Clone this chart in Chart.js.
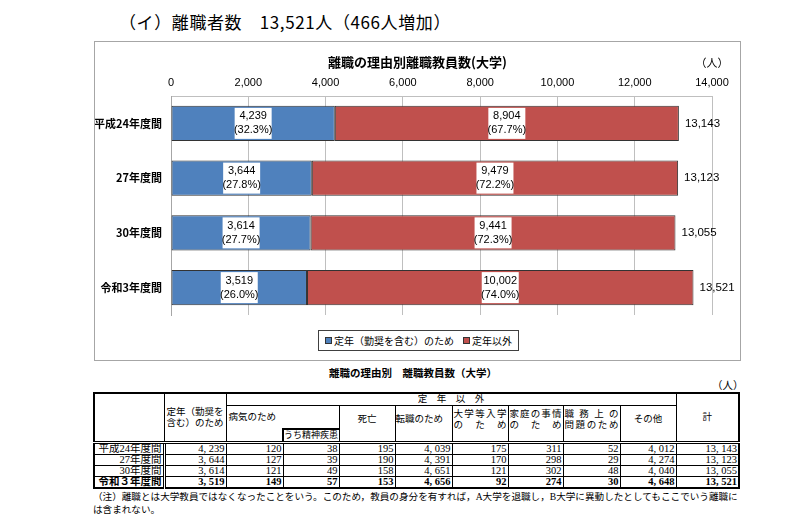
<!DOCTYPE html>
<html lang="ja">
<head>
<meta charset="utf-8">
<title>離職の理由別離職教員数（大学）</title>
<script src="https://cdn.jsdelivr.net/npm/chart.js@4.4.1/dist/chart.umd.min.js"></script>
<style>
  body { margin: 0; width: 800px; height: 521px; background: #fff; position: relative; overflow: hidden;
         font-family: "Noto Sans CJK JP", sans-serif; color: #000; }
  #pageTitle { position: absolute; left: 119px; top: 9px; font-size: 17px; line-height: 26px; white-space: nowrap; letter-spacing: 0.6px; }
  #chartBox { position: absolute; left: 94px; top: 41px; width: 647px; height: 320px; box-sizing: border-box; border: 1px solid #a6a6a6; }
  #chartBox canvas { display: block; }
  #legend { position: absolute; left: 318px; top: 330px; width: 201px; height: 21px; box-sizing: border-box;
            border: 1px solid #404040; background: #fff; display: flex; align-items: center; justify-content: center;
            gap: 9px; font-size: 10px; white-space: nowrap; }
  #legend .mark { display: inline-block; width: 5px; height: 5px; border: 1px solid #333; margin-right: 2px; vertical-align: 1px; }
  #tableTitle { position: absolute; left: 0; width: 826px; top: 365px; text-align: center; font-size: 10.5px; font-weight: bold; }
  #tableUnit { position: absolute; left: 712px; top: 377px; font-size: 10.5px; font-family: "Liberation Serif", "Noto Sans CJK JP", serif; }
  #reasons { position: absolute; left: 93px; top: 392px; width: 645px; table-layout: fixed; border-collapse: collapse;
             border: 2px solid #000; font-family: "Liberation Serif", "Noto Sans CJK JP", serif; font-size: 10.5px; }
  #reasons td { border: 1px solid #000; padding: 0 1px; line-height: 10px; height: 10px; overflow: hidden; white-space: nowrap; }
  #reasons .hd { font-size: 9.5px; line-height: 11px; vertical-align: middle; padding: 0; }
  #reasons .c { text-align: center; }
  #reasons .spread { text-align: justify; text-align-last: justify; padding: 0 1px; }
  #reasons .hb td, #reasons td.hb { border-bottom: 3px double #000; }
  #reasons .num { text-align: right; }
  #reasons .lab { text-align: right; border-right: 3px double #000; }
  #reasons tr.last td { font-weight: bold; }
  #note { position: absolute; left: 93px; top: 490px; width: 652px; font-size: 9.6px; line-height: 13px;
          font-family: "Liberation Serif", "Noto Sans CJK JP", serif; }
</style>
</head>
<body>
<div id="pageTitle">（イ）離職者数　13,521人（466人増加）</div>
<div id="chartBox"><canvas id="grafico" width="645" height="318"></canvas></div>
<div id="legend"></div>
<div id="tableTitle">離職の理由別　離職教員数（大学）</div>
<div id="tableUnit">（人）</div>
<table id="reasons">
  <colgroup>
    <col style="width:70px"><col style="width:62px"><col style="width:57px"><col style="width:56px">
    <col style="width:56px"><col style="width:57px"><col style="width:56px"><col style="width:55px">
    <col style="width:57px"><col style="width:56px"><col style="width:63px">
  </colgroup>
  <thead>
    <tr>
      <td rowspan="3" class="hb"></td>
      <td rowspan="3" class="hd hb" style="padding-left:2px">定年（勤奨を<br>含む）のため</td>
      <td colspan="8" class="hd c" style="height:10px">定　年　以　外</td>
      <td rowspan="3" class="hd c hb">計</td>
    </tr>
    <tr>
      <td colspan="2" class="hd" style="border-bottom:none;height:22px;padding-left:2px">病気のため</td>
      <td rowspan="2" class="hd c hb" style="padding-bottom:8px">死亡</td>
      <td rowspan="2" class="hd hb" style="padding-bottom:8px">転職のため</td>
      <td rowspan="2" class="hd spread hb" style="padding-bottom:8px">大学等入学<br>の　た　め</td>
      <td rowspan="2" class="hd spread hb" style="padding-bottom:8px">家庭の事情<br>の　た　め</td>
      <td rowspan="2" class="hd spread hb" style="padding-bottom:8px">職務上の<br>問題のため</td>
      <td rowspan="2" class="hd c hb" style="padding-bottom:8px">その他</td>
    </tr>
    <tr class="hb">
      <td style="border-top:none;border-right:none"></td>
      <td class="hd" style="border-top:2px solid #000;border-left:2px solid #000;font-size:9px;height:10px">うち精神疾患</td>
    </tr>
  </thead>
  <tbody id="reasonsBody"></tbody>
</table>
<div id="note">（注）離職とは大学教員ではなくなったことをいう。このため，教員の身分を有すれば，A大学を退職し，B大学に異動したとしてもここでいう離職には含まれない。</div>

<script>
// dados do gráfico
const categories = ['平成24年度間', '27年度間', '30年度間', '令和3年度間'];
const seriesNames = ['定年（勤奨を含む）のため', '定年以外'];
const teinen = [4239, 3644, 3614, 3519];
const teinenIgai = [8904, 9479, 9441, 10002];
const axisMin = 0;
const axisMax = 14000;
const axisStep = 2000;

// dados da tabela
const tableRowLabels = ['平成24年度間', '27年度間', '30年度間', '令和３年度間'];
const byoki = [120, 127, 121, 149];
const seishin = [38, 39, 49, 57];
const shibo = [195, 190, 158, 153];
const tenshoku = [4039, 4391, 4651, 4656];
const nyugaku = [175, 170, 121, 92];
const katei = [311, 298, 302, 274];
const shokumu = [52, 29, 48, 30];
const sonota = [4012, 4274, 4040, 4648];

const totals = teinen.map((v, i) => v + teinenIgai[i]);
const colors = ['#4F81BD', '#C0504D'];
const fmt = v => v.toLocaleString('en-US');

// legenda
document.getElementById('legend').innerHTML = seriesNames.map((name, i) =>
  `<span><span class="mark" style="background:${colors[i]}"></span>${name}</span>`).join('');

// tabela
const cols = [teinen, byoki, seishin, shibo, tenshoku, nyugaku, katei, shokumu, sonota, totals];
document.getElementById('reasonsBody').innerHTML = tableRowLabels.map((label, i) => {
  const cells = cols.map(c => `<td class="num">${fmt(c[i]).replace(',', ', ')}</td>`).join('');
  return `<tr${i === tableRowLabels.length - 1 ? ' class="last"' : ''}><td class="lab">${label}</td>${cells}</tr>`;
}).join('');

// rótulos das barras e totais
const barLabels = {
  id: 'barLabels',
  afterDatasetsDraw(chart) {
    const ctx = chart.ctx;
    ctx.save();
    ctx.font = '11px "Liberation Sans", "Noto Sans CJK JP", sans-serif';
    ctx.textAlign = 'center';
    ctx.textBaseline = 'middle';
    chart.data.datasets.forEach((ds, di) => {
      chart.getDatasetMeta(di).data.forEach((bar, i) => {
        const v = ds.data[i];
        const cx = (bar.x + bar.base) / 2;
        ctx.fillStyle = '#fff';
        ctx.fillRect(cx - 18.5, bar.y - 15.5, 37, 31);
        ctx.fillStyle = '#000';
        ctx.fillText(fmt(v), cx, bar.y - 7);
        ctx.fillText('(' + (v / totals[i] * 100).toFixed(1) + '%)', cx, bar.y + 7);
      });
    });
    const last = chart.getDatasetMeta(chart.data.datasets.length - 1);
    ctx.textAlign = 'left';
    ctx.font = '11.5px "Liberation Sans", sans-serif';
    last.data.forEach((bar, i) => ctx.fillText(fmt(totals[i]), bar.x + 6, bar.y));
    ctx.restore();
  }
};

const headings = {
  id: 'headings',
  afterDraw(chart) {
    const { ctx, chartArea } = chart;
    ctx.save();
    ctx.fillStyle = '#000';
    ctx.textBaseline = 'middle';
    ctx.textAlign = 'center';
    ctx.font = 'bold 13px "Noto Sans CJK JP", sans-serif';
    ctx.fillText('離職の理由別離職教員数(大学)', chart.width / 2, 20);
    ctx.font = '11px "Noto Sans CJK JP", sans-serif';
    ctx.fillText('（人）', chartArea.right, 21);
    ctx.restore();
  }
};

new Chart(document.getElementById('grafico'), {
  type: 'bar',
  data: {
    labels: categories,
    datasets: seriesNames.map((name, i) => ({
      label: name,
      data: [teinen, teinenIgai][i],
      backgroundColor: colors[i],
      borderColor: '#333',
      borderWidth: 1,
      borderSkipped: false,
      categoryPercentage: 0.8,
      barPercentage: 0.8
    }))
  },
  options: {
    indexAxis: 'y',
    responsive: false,
    animation: false,
    layout: { padding: { left: 0, top: 0, right: 28, bottom: 45 } },
    plugins: { legend: { display: false }, title: { display: false }, tooltip: { enabled: false } },
    scales: {
      x: {
        position: 'top',
        stacked: true,
        min: axisMin,
        max: axisMax,
        ticks: { stepSize: axisStep, padding: 6, color: '#000', font: { size: 11, family: '"Liberation Sans", sans-serif' }, callback: v => fmt(v) },
        grid: { color: '#bfbfbf', drawTicks: false },
        border: { color: '#bfbfbf' },
        afterFit(scale) { scale.height = 54; }
      },
      y: {
        stacked: true,
        ticks: { padding: 9, color: '#000', font: { size: 11, weight: 'bold', family: '"Noto Sans CJK JP", sans-serif' } },
        grid: { display: false, drawTicks: false },
        border: { color: '#a6a6a6' },
        afterFit(scale) { scale.width = 76; }
      }
    }
  },
  plugins: [barLabels, headings]
});
</script>
</body>
</html>
